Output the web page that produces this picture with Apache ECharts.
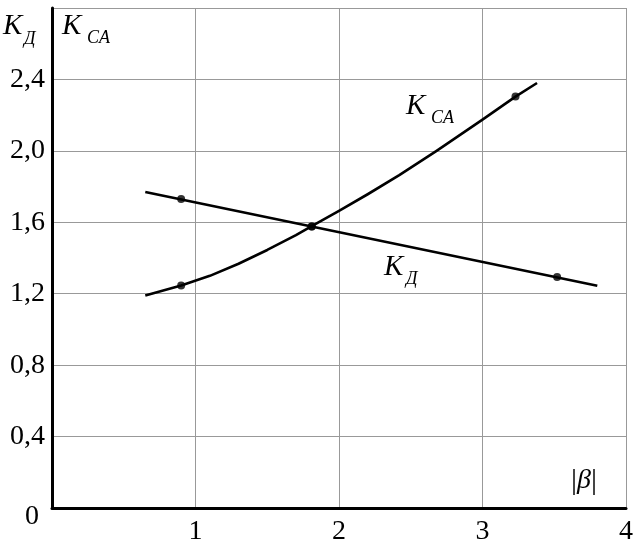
<!DOCTYPE html>
<html><head><meta charset="utf-8">
<script src="https://cdn.jsdelivr.net/npm/echarts@6/dist/echarts.min.js"></script>
<style>html,body{margin:0;padding:0;background:#fff}#c{width:636px;height:548px}</style>
</head><body><div id="c"></div>
<script>
// Data
const xTicks = [0, 1, 2, 3, 4];
const yTicks = [0, 0.4, 0.8, 1.2, 1.6, 2.0, 2.4, 2.8];
const kdLine = [[0.65, 1.77], [3.8, 1.245]];
const kdPoints = [[0.9, 1.73], [1.81, 1.577], [3.52, 1.293]];
const kcaLine = [[0.65, 1.19], [0.9, 1.246], [1.1, 1.3], [1.3, 1.368], [1.5, 1.445], [1.7, 1.528], [1.81, 1.578], [2.0, 1.664], [2.2, 1.757], [2.42, 1.864], [2.68, 2.0], [3.0, 2.175], [3.23, 2.304], [3.38, 2.38]];
const kcaPoints = [[0.9, 1.246], [1.81, 1.577], [3.23, 2.304]];

const FONT = '"Liberation Serif", "Times New Roman", serif';
const chart = echarts.init(document.getElementById('c'));
const sub = (x, y, t) => ({ type: 'text', left: x, top: y, style: { text: t, font: 'italic 18px ' + FONT, fill: '#000' } });
const kk = (x, y) => ({ type: 'text', left: x, top: y, style: { text: 'K', font: 'italic 29px ' + FONT, fill: '#000' } });

chart.setOption({
  animation: false,
  grid: { left: 52, right: 10, top: 8, bottom: 40 },
  xAxis: {
    type: 'value', min: xTicks[0], max: xTicks[xTicks.length - 1], interval: 1,
    axisLine: { lineStyle: { color: '#000', width: 3 } },
    axisTick: { show: false },
    splitLine: { show: true, lineStyle: { color: '#999', width: 1 } },
    axisLabel: { showMinLabel: false, color: '#000', fontSize: 28, fontFamily: FONT, margin: 10 }
  },
  yAxis: {
    type: 'value', min: yTicks[0], max: yTicks[yTicks.length - 1], interval: 0.4,
    axisLine: { show: true, lineStyle: { color: '#000', width: 3 } },
    axisTick: { show: false },
    splitLine: { show: true, lineStyle: { color: '#999', width: 1 } },
    axisLabel: {
      showMinLabel: false, showMaxLabel: false, color: '#000', fontSize: 28, fontFamily: FONT, margin: 7,
      formatter: v => v.toFixed(1).replace('.', ',')
    }
  },
  series: [
    { name: 'K_Д', type: 'line', data: kdLine, showSymbol: false, lineStyle: { color: '#000', width: 2.6 }, z: 3 },
    { name: 'K_CA', type: 'line', data: kcaLine, smooth: false, showSymbol: false, lineStyle: { color: '#000', width: 2.6, join: 'round' }, z: 3 },
    { type: 'scatter', data: kdPoints, symbolSize: 8, itemStyle: { color: '#000' }, z: 4 },
    { type: 'scatter', data: kcaPoints, symbolSize: 8, itemStyle: { color: '#000' }, z: 4 }
  ],
  graphic: [
    kk(3, 12), sub(24, 30, 'Д'),
    kk(62, 12), sub(87, 29, 'CA'),
    kk(406, 92), sub(431, 109, 'CA'),
    kk(384, 253), sub(406, 270, 'Д'),
    { type: 'text', left: 25, top: 503, style: { text: '0', font: '28px ' + FONT, fill: '#000' } },
    { type: 'text', left: 571, top: 466, style: {
      text: '{a||}{b|β}{a||}', rich: {
        a: { font: '30px ' + FONT, fill: '#000' },
        b: { font: 'italic 28px ' + FONT, fill: '#000' }
      } } }
  ]
});
</script></body></html>
